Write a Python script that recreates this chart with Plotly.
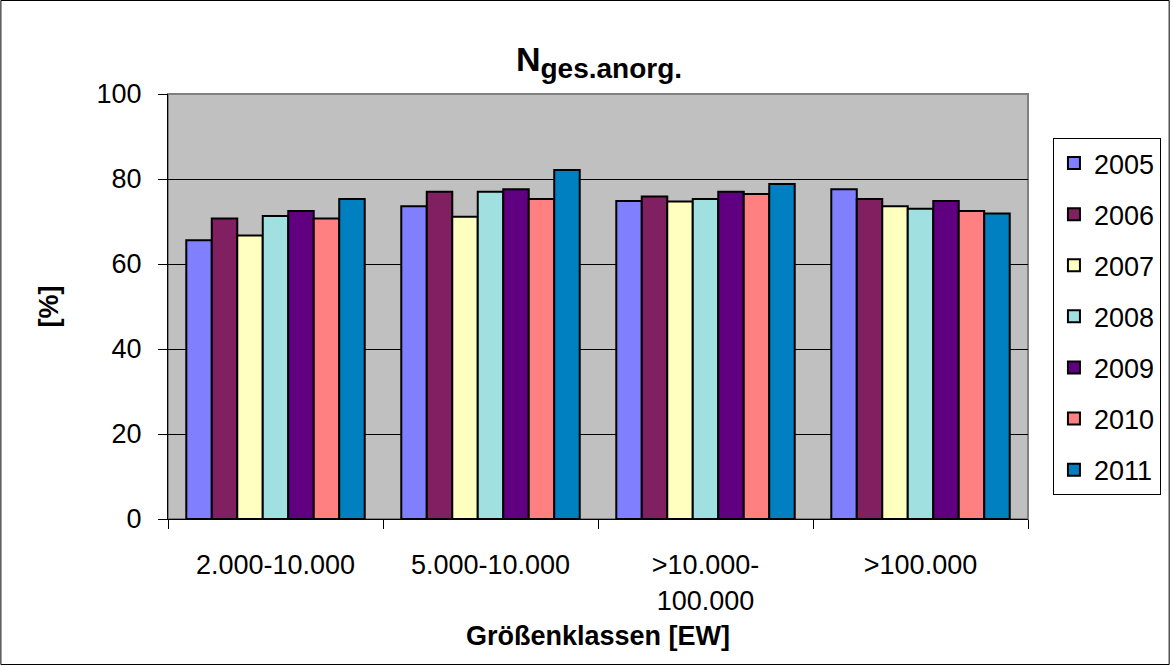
import plotly.graph_objects as go

categories = ["2.000-10.000", "5.000-10.000", ">10.000-<br>100.000", ">100.000"]
years = ["2005", "2006", "2007", "2008", "2009", "2010", "2011"]
values = {
    "2005": [65.6, 73.6, 74.8, 77.6],
    "2006": [70.7, 77.0, 75.9, 75.3],
    "2007": [66.7, 71.1, 74.7, 73.6],
    "2008": [71.3, 77.0, 75.3, 73.0],
    "2009": [72.5, 77.6, 77.0, 74.8],
    "2010": [70.7, 75.3, 76.5, 72.5],
    "2011": [75.3, 82.1, 78.8, 71.9],
}
colors = ["#8080FF", "#802060", "#FFFFC0", "#A0E0E0", "#600080", "#FF8080", "#0080C0"]

fig = go.Figure()
for y, c in zip(years, colors):
    fig.add_trace(go.Bar(
        x=categories, y=values[y], name=y, legendgroup=y,
        marker=dict(color=c, line=dict(color="black", width=2)),
    ))

L, R, T, B = 168, 143, 94, 147
W, H = 1173, 666
pw, ph = W - L - R, H - T - B
FS = 27

fig.update_layout(
    width=W, height=H,
    margin=dict(l=L, r=R, t=T, b=B),
    paper_bgcolor="white", plot_bgcolor="#C0C0C0",
    font=dict(family="Liberation Sans, Arial, sans-serif", color="black", size=FS),
    barmode="group", bargap=0.17, bargroupgap=0,
    title=dict(text="<b>N<sub><span style='font-size:28px'>ges.anorg.</span></sub></b>",
               x=(L + pw / 2) / W, xanchor="center",
               y=1 - 59 / H, yanchor="middle", font=dict(size=34)),
    showlegend=True,
    legend=dict(x=1 + 25 / pw, xanchor="left", y=1 - 44 / ph, yanchor="top",
                bordercolor="black", borderwidth=1, bgcolor="white",
                font=dict(size=FS), tracegroupgap=13, traceorder="grouped"),
    xaxis=dict(
        showline=True, linecolor="black", linewidth=1, mirror=False,
        ticks="outside", tickson="boundaries", ticklen=9, tickcolor="black",
        tickfont=dict(size=FS), ticklabelstandoff=22,
        title=dict(text="<b>Größenklassen [EW]</b>", font=dict(size=FS), standoff=11),
    ),
    yaxis=dict(
        range=[0, 100], tickvals=[0, 20, 40, 60, 80, 100],
        showline=True, linecolor="black", linewidth=1,
        ticks="outside", ticklen=9, tickcolor="black",
        showgrid=True, gridcolor="black", gridwidth=1,
        zeroline=False, tickfont=dict(size=FS), ticklabelstandoff=11,
        title=dict(text="<b>[%]</b>", font=dict(size=FS), standoff=30),
    ),
)

# plot-area gray border on top/right
fig.add_shape(type="rect", xref="paper", yref="paper", x0=0, x1=1, y0=0, y1=1,
              line=dict(color="#808080", width=2), layer="below")
# outer figure border
fig.add_shape(type="rect", xref="paper", yref="paper",
              x0=-(L - 0.5) / pw, x1=1 + (R - 1.5) / pw,
              y0=-(B - 1.5) / ph, y1=1 + (T - 0.5) / ph,
              line=dict(color="black", width=1))

fig.write_html("out.html", config={"displayModeBar": False},
               post_script="document.body.style.margin='0px';")
